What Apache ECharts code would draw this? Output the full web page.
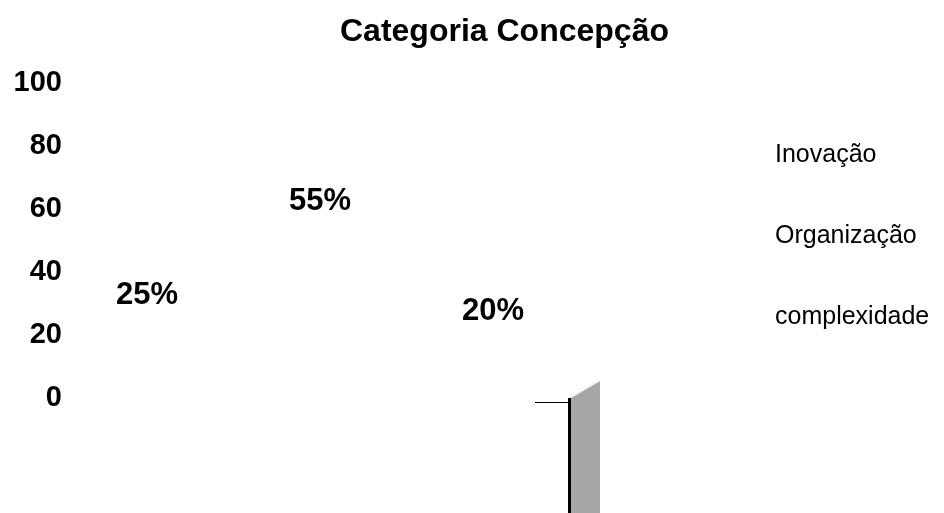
<!DOCTYPE html>
<html><head><meta charset="utf-8">
<script src="https://cdn.jsdelivr.net/npm/echarts@6/dist/echarts.min.js"></script>
<style>html,body{margin:0;padding:0;background:#fff}#c{width:944px;height:513px}</style>
</head><body><div id="c"></div>
<script>
const categories = ['Concepção'];
const seriesNames = ['Inovação', 'Organização', 'complexidade'];
const seriesValues = [[25], [55], [20]];
const yTicks = [0, 20, 40, 60, 80, 100];

const chart = echarts.init(document.getElementById('c'));
const font = 'Liberation Sans, Arial, sans-serif';
chart.setOption({
  backgroundColor: '#fff',
  animation: false,
  title: {
    text: 'Categoria Concepção', left: 335, top: 11,
    textStyle: {fontFamily: font, fontSize: 32, fontWeight: 'bold', color: '#000'}
  },
  legend: {
    orient: 'vertical', left: 751, top: 138, itemGap: 56,
    itemWidth: 14, itemHeight: 14,
    data: seriesNames.map(n => ({name: n, icon: 'rect', itemStyle: {color: 'rgba(255,255,255,0)'}})),
    textStyle: {fontFamily: font, fontSize: 25, color: '#000'}
  },
  grid: {left: 70, right: 374, top: 83, bottom: 115},
  xAxis: {
    type: 'category', data: categories,
    axisLine: {show: false}, axisTick: {show: false}, axisLabel: {show: false}
  },
  yAxis: {
    type: 'value', min: yTicks[0], max: yTicks[yTicks.length - 1], interval: 20,
    axisLine: {show: false}, axisTick: {show: false}, splitLine: {show: false},
    axisLabel: {margin: 8, fontFamily: font, fontSize: 29, fontWeight: 'bold', color: '#000'}
  },
  series: seriesNames.map((n, i) => ({
    name: n, type: 'bar', data: seriesValues[i],
    barWidth: 100, barGap: '73%',
    itemStyle: {color: 'rgba(255,255,255,0)'},
    label: {
      show: true, position: 'top', distance: 8, formatter: '{c}%',
      fontFamily: font, fontSize: 31, fontWeight: 'bold', color: '#000'
    }
  })),
  graphic: [
    {type: 'polygon', shape: {points: [[571, 398], [600, 381], [600, 513], [571, 513]]},
     style: {fill: '#a6a6a6'}, silent: true},
    {type: 'line', shape: {x1: 571, y1: 397, x2: 600, y2: 380},
     style: {stroke: '#eeeeee', lineWidth: 2, lineDash: [3, 2]}, silent: true},
    {type: 'line', shape: {x1: 535, y1: 402.5, x2: 569, y2: 402.5},
     style: {stroke: '#000', lineWidth: 1}, silent: true},
    {type: 'line', shape: {x1: 569.5, y1: 398, x2: 569.5, y2: 513},
     style: {stroke: '#000', lineWidth: 3}, silent: true}
  ]
});
</script></body></html>
